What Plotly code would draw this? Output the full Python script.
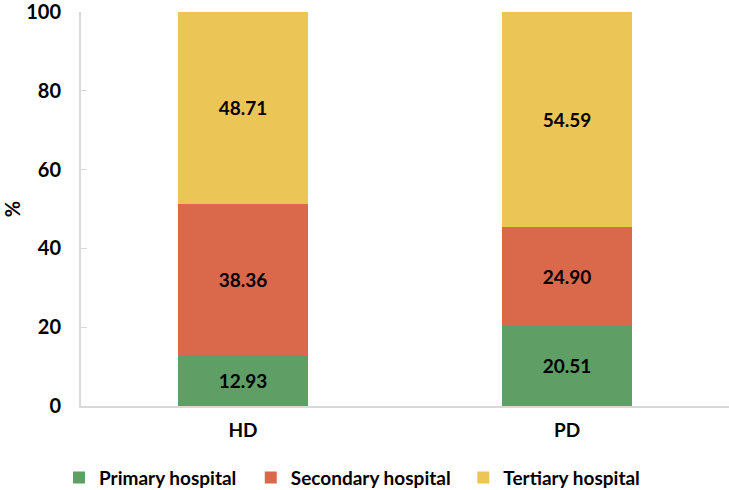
import plotly.graph_objects as go

categories = ["HD", "PD"]
primary = [12.93, 20.51]
secondary = [38.36, 24.90]
tertiary = [48.71, 54.59]
series_names = ["Primary hospital", "Secondary hospital", "Tertiary hospital"]
colors = ["#5f9e65", "#d9694a", "#ebc657"]
yticks = [0, 20, 40, 60, 80, 100]

FONT = "Lato"
legend_ids = ["legend", "legend2", "legend3"]
legend_x = [-0.034, 0.262, 0.590]

fig = go.Figure()
for name, vals, col, lid in zip(series_names, [primary, secondary, tertiary], colors, legend_ids):
    fig.add_trace(go.Bar(
        x=categories, y=vals, name=name, marker=dict(color=col, line=dict(width=0)),
        text=[f"{v:.2f}" for v in vals], textposition="inside", insidetextanchor="middle",
        textfont=dict(family=FONT, size=19, color="black", weight="bold"),
        width=0.4, legend=lid,
    ))

legend_common = dict(orientation="h", xanchor="left", y=-0.182, yanchor="middle",
                     font=dict(family=FONT, size=19, color="black", weight="bold"),
                     itemwidth=30, bgcolor="rgba(0,0,0,0)")
fig.update_layout(
    barmode="stack",
    width=729, height=490,
    margin=dict(l=81, r=0, t=12, b=84, autoexpand=False),
    plot_bgcolor="white", paper_bgcolor="white",
    font=dict(family=FONT, size=19, color="black", weight="bold"),
    showlegend=True,
    legend=dict(x=legend_x[0], **legend_common),
    legend2=dict(x=legend_x[1], **legend_common),
    legend3=dict(x=legend_x[2], **legend_common),
    uniformtext=dict(mode=False),
)
fig.update_xaxes(showline=True, linecolor="#d9d9d9", linewidth=2, ticks="", automargin=False,
                 tickfont=dict(family=FONT, size=19, weight="bold"), ticklabelstandoff=6)
fig.update_yaxes(range=[0, 100], tickvals=yticks, showgrid=False, zeroline=False, automargin=False,
                 showline=True, linecolor="#d9d9d9", linewidth=2, ticklabeloverflow="allow",
                 ticks="inside", ticklen=6, tickcolor="#d9d9d9", ticklabelstandoff=14,
                 tickfont=dict(family=FONT, size=20, weight="bold"),
                 title=dict(text="%", font=dict(family=FONT, size=20, weight="bold"), standoff=12))
fig.write_html("out.html", config={"displayModeBar": False},
               post_script="document.body.style.margin='0';")
